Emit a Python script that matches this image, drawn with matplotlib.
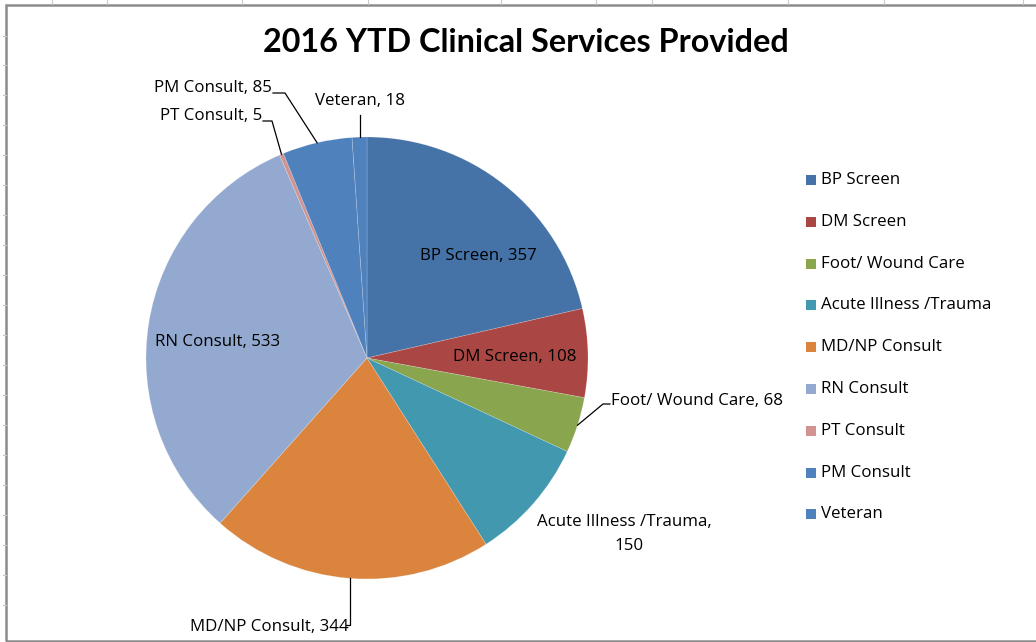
import numpy as np
import matplotlib
matplotlib.use('Agg')
import matplotlib.pyplot as plt
from matplotlib.patches import Rectangle

# data
categories = ['BP Screen', 'DM Screen', 'Foot/ Wound Care', 'Acute Illness /Trauma',
              'MD/NP Consult', 'RN Consult', 'PT Consult', 'PM Consult', 'Veteran']
values = [357, 108, 68, 150, 344, 533, 5, 85, 18]
colors = ['#4572A7', '#AA4643', '#89A54E', '#4198AF', '#DB843D',
          '#93A9CF', '#D19392', '#4F81BD', '#4F81BD']

plt.rcParams['font.family'] = ['Open Sans', 'DejaVu Sans']

W, H = 1036, 642
fig = plt.figure(figsize=(W / 100, H / 100), dpi=100)
ax = fig.add_axes([0, 0, 1, 1])

# chart frame + faint sheet gridline stubs
fig.patches.append(Rectangle((6 / W, 1 / H), 1.2, (H - 6) / H, transform=fig.transFigure,
                             fill=False, edgecolor='#8c8c8c', lw=1.8))
for gx in [52, 107, 242, 368, 501, 596, 652, 788, 884, 1023]:
    fig.lines.append(plt.Line2D([gx / W, gx / W], [(H - 4) / H, 1], transform=fig.transFigure,
                                color='#c8c8c8', lw=0.8))
for gy in [36, 65, 95, 125, 155, 185, 215, 245, 275, 305, 335, 365, 395, 425, 455, 485, 515, 545, 575, 605]:
    fig.lines.append(plt.Line2D([3 / W, 6 / W], [1 - gy / H, 1 - gy / H], transform=fig.transFigure,
                                color='#c8c8c8', lw=0.8))

cx, cy, r = 367, H - 358, 221
wedges, _ = ax.pie(values, colors=colors, startangle=90, counterclock=False,
                   center=(cx, cy), radius=r, frame=True,
                   wedgeprops=dict(edgecolor='#ffffff40', linewidth=0.5))
ax.set_xlim(0, W)
ax.set_ylim(0, H)
ax.set_aspect('equal')
ax.axis('off')

ax.text(526, H - 43, '2016 YTD Clinical Services Provided', ha='center', va='center',
        fontsize=23.3, fontweight='bold', color='black', family='Lato')

# mid angles from data
total = sum(values)
cum = np.cumsum([0] + values)
mid = [90 - (cum[i] + values[i] / 2) / total * 360 for i in range(len(values))]

def edge(i):
    a = np.deg2rad(mid[i])
    return cx + r * np.cos(a), cy + r * np.sin(a)

fs = 12.2
# inside labels
ax.text(478, H - 256, f'{categories[0]}, {values[0]}', ha='center', va='center', fontsize=fs)
ax.text(515, H - 357, f'{categories[1]}, {values[1]}', ha='center', va='center', fontsize=fs)
ax.text(218, H - 342, f'{categories[5]}, {values[5]}', ha='center', va='center', fontsize=fs)
ax.text(537, H - 522, 'Acute Illness /Trauma,', ha='left', va='center', fontsize=fs)
ax.text(629, H - 546, f'{values[3]}', ha='center', va='center', fontsize=fs)

# outside labels with leaders
lc = '#000000'
x0, y0 = edge(2)
ax.plot([x0, 603, 610], [y0, H - 404, H - 404], color=lc, lw=0.9)
ax.text(611, H - 401, f'{categories[2]}, {values[2]}', ha='left', va='center', fontsize=fs)

x0, y0 = edge(4)
ax.plot([x0, x0, x0 - 4], [y0, H - 625, H - 625], color=lc, lw=0.9)
ax.text(x0 - 1, H - 627, f'{categories[4]}, {values[4]}', ha='right', va='center', fontsize=fs)

x0, y0 = edge(6)
ax.plot([x0, 272, 263], [y0, H - 121, H - 121], color=lc, lw=0.9)
ax.text(262, H - 116, f'{categories[6]}, {values[6]}', ha='right', va='center', fontsize=fs)

x0, y0 = edge(7)
ax.plot([x0, 285, 273], [y0, H - 93, H - 93], color=lc, lw=0.9)
ax.text(272, H - 88, f'{categories[7]}, {values[7]}', ha='right', va='center', fontsize=fs)

x0, y0 = edge(8)
ax.plot([x0, x0], [y0, H - 115], color=lc, lw=0.9)
ax.text(360, H - 101, f'{categories[8]}, {values[8]}', ha='center', va='center', fontsize=fs)

# legend
for i, (c, name) in enumerate(zip(colors, categories)):
    ly = H - (180 + i * 41.8)
    ax.add_patch(Rectangle((806, ly - 5), 10, 10, facecolor=c, edgecolor='none'))
    ax.text(821, ly, name, ha='left', va='center', fontsize=fs)

fig.savefig('out.png', dpi=100)
